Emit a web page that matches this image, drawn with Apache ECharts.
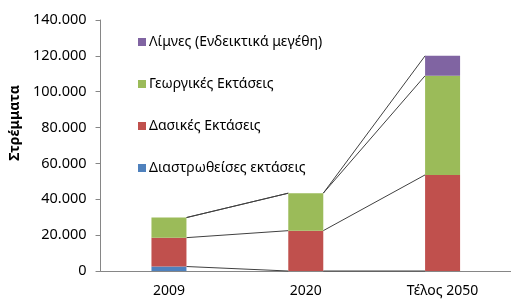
<!DOCTYPE html>
<html>
<head>
<meta charset="utf-8">
<script src="https://cdn.jsdelivr.net/npm/echarts@6/dist/echarts.min.js"></script>
<style>
  html, body { margin: 0; padding: 0; background: #fff; }
  #chart { width: 511px; height: 303px; }
</style>
</head>
<body>
<div id="chart"></div>
<script>
const categories = ["2009", "2020", "Τέλος 2050"];
const paved = [2500, 0, 0];
const forest = [16100, 22500, 53600];
const farmland = [11200, 20900, 55300];
const lakes = [0, 0, 11100];
const yTicks = [0, 20000, 40000, 60000, 80000, 100000, 120000, 140000];

const names = ["Διαστρωθείσες εκτάσεις", "Δασικές Εκτάσεις", "Γεωργικές Εκτάσεις", "Λίμνες (Ενδεικτικά μεγέθη)"];
const colors = ["#4F81BD", "#C0504D", "#9BBB59", "#8064A2"];
const stacks = [paved, forest, farmland, lakes];
const barWidth = 35;
const font = "Noto Sans";

// series lines: join the top of every stack level between neighbouring bars
const cumul = [];
stacks.forEach((vals, k) => {
  cumul.push(vals.map((v, i) => v + (k > 0 ? cumul[k - 1][i] : 0)));
});
const seriesLines = [];
cumul.forEach((tops) => {
  for (let i = 0; i < categories.length - 1; i++) {
    seriesLines.push([i, tops[i], tops[i + 1]]);
  }
});

const chart = echarts.init(document.getElementById("chart"));
chart.setOption({
  animation: false,
  grid: { left: 92, right: -4, top: 20, bottom: 32 },
  legend: {
    orient: "vertical",
    left: 133,
    top: 29,
    itemWidth: 8,
    itemHeight: 8,
    itemGap: 26,
    icon: "rect",
    data: names.slice().reverse(),
    textStyle: { fontFamily: font, fontSize: 14, color: "#000", lineHeight: 16, padding: [0, 0, 0, -2] }
  },
  xAxis: {
    type: "category",
    data: categories,
    axisLine: { lineStyle: { color: "#868686" } },
    axisTick: { show: false },
    axisLabel: { fontFamily: font, fontSize: 14, color: "#000", margin: 13 }
  },
  yAxis: {
    type: "value",
    min: 0,
    max: 140000,
    interval: 20000,
    name: "Στρέμματα",
    nameLocation: "middle",
    nameGap: 74,
    nameTextStyle: { fontFamily: font, fontSize: 14, fontWeight: "bold", color: "#000", padding: [0, 0, 0, 45] },
    splitLine: { show: false },
    axisLine: { show: true, lineStyle: { color: "#868686" } },
    axisTick: { show: true, length: 5, lineStyle: { color: "#868686" } },
    axisLabel: {
      fontFamily: font, fontSize: 14.5, color: "#000", margin: 14,
      formatter: (v) => yTicks.includes(v) ? v.toLocaleString("de-DE") : ""
    }
  },
  series: stacks.map((vals, k) => ({
    name: names[k],
    type: "bar",
    stack: "total",
    barWidth: barWidth,
    itemStyle: { color: colors[k] },
    data: vals
  })).concat([{
    type: "custom",
    silent: true,
    z: 1,
    data: seriesLines,
    encode: { x: 0, y: 1 },
    renderItem: (params, api) => {
      const i = api.value(0);
      const p1 = api.coord([i, api.value(1)]);
      const p2 = api.coord([i + 1, api.value(2)]);
      return {
        type: "line",
        shape: { x1: p1[0] + barWidth / 2, y1: p1[1], x2: p2[0] - barWidth / 2, y2: p2[1] },
        style: { stroke: "#404040", lineWidth: 1 }
      };
    }
  }])
});
</script>
</body>
</html>
